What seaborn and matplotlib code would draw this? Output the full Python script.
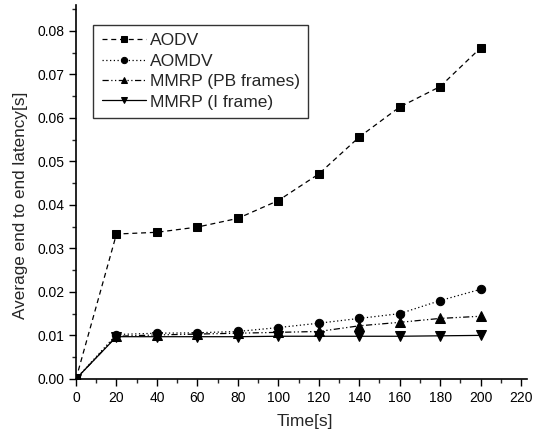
import matplotlib
matplotlib.use("Agg")
import matplotlib.pyplot as plt
import seaborn as sns
import pandas as pd
from matplotlib.ticker import MultipleLocator

time = [0, 20, 40, 60, 80, 100, 120, 140, 160, 180, 200]
aodv = [0, 0.0333, 0.0337, 0.0349, 0.0369, 0.0410, 0.0471, 0.0556, 0.0625, 0.0672, 0.0761]
aomdv = [0, 0.0102, 0.0105, 0.0106, 0.0109, 0.0118, 0.0128, 0.0139, 0.0150, 0.0180, 0.0206]
mmrp_pb = [0, 0.0098, 0.0101, 0.0103, 0.0105, 0.0107, 0.0109, 0.0122, 0.0130, 0.0139, 0.0144]
mmrp_i = [0, 0.0097, 0.0097, 0.0097, 0.0097, 0.0098, 0.0098, 0.0098, 0.0098, 0.0099, 0.0100]
names = ["AODV", "AOMDV", "MMRP (PB frames)", "MMRP (I frame)"]

sns.set_theme(style="ticks")
plt.rcParams['font.family'] = ['Liberation Sans', 'DejaVu Sans']

fig = plt.figure(figsize=(5.39, 4.36), dpi=100)
ax = fig.add_axes([0.141, 0.131, 0.837, 0.858])

series = [aodv, aomdv, mmrp_pb, mmrp_i]
styles = [((0, (4, 3)), 's', 5.5), ((0, (1, 2)), 'o', 6), ((0, (5, 2, 1, 2, 1, 2)), '^', 6.5), ('-', 'v', 6.5)]
for name, vals, (ls, mk, ms) in zip(names, series, styles):
    df = pd.DataFrame({"t": time, "v": vals})
    sns.lineplot(data=df, x="t", y="v", ax=ax, color="black", linestyle=ls,
                 marker=mk, markersize=ms, markeredgecolor="black", linewidth=0.9,
                 label=name)

ax.set_xlim(0, 223)
ax.set_ylim(0, 0.086)
ax.xaxis.set_major_locator(MultipleLocator(20))
ax.xaxis.set_minor_locator(MultipleLocator(10))
ax.yaxis.set_major_locator(MultipleLocator(0.01))
ax.yaxis.set_minor_locator(MultipleLocator(0.005))
ax.yaxis.set_major_formatter(matplotlib.ticker.FormatStrFormatter('%.2f'))
ax.tick_params(which='major', length=5, width=1, labelsize=10, colors='black')
ax.tick_params(which='minor', length=3, width=1)
for s in ['top', 'right']:
    ax.spines[s].set_visible(False)
for s in ['left', 'bottom']:
    ax.spines[s].set_color('black')
    ax.spines[s].set_linewidth(1.2)
ax.set_xlabel("Time[s]", fontsize=12.5)
ax.set_ylabel("Average end to end latency[s]", fontsize=12.3)
ax.xaxis.set_label_coords(0.507, -0.094)
ax.yaxis.set_label_coords(-0.106, 0.464)

leg = ax.legend(loc='upper left', bbox_to_anchor=(0.038, 0.947), fontsize=12.5,
                frameon=True, fancybox=False, edgecolor='black', handlelength=2.55,
                handletextpad=0.2, borderpad=0.5, labelspacing=0.3,
                borderaxespad=0, markerscale=0.75)
leg.get_frame().set_linewidth(1.0)

fig.savefig("out.png", dpi=100)
